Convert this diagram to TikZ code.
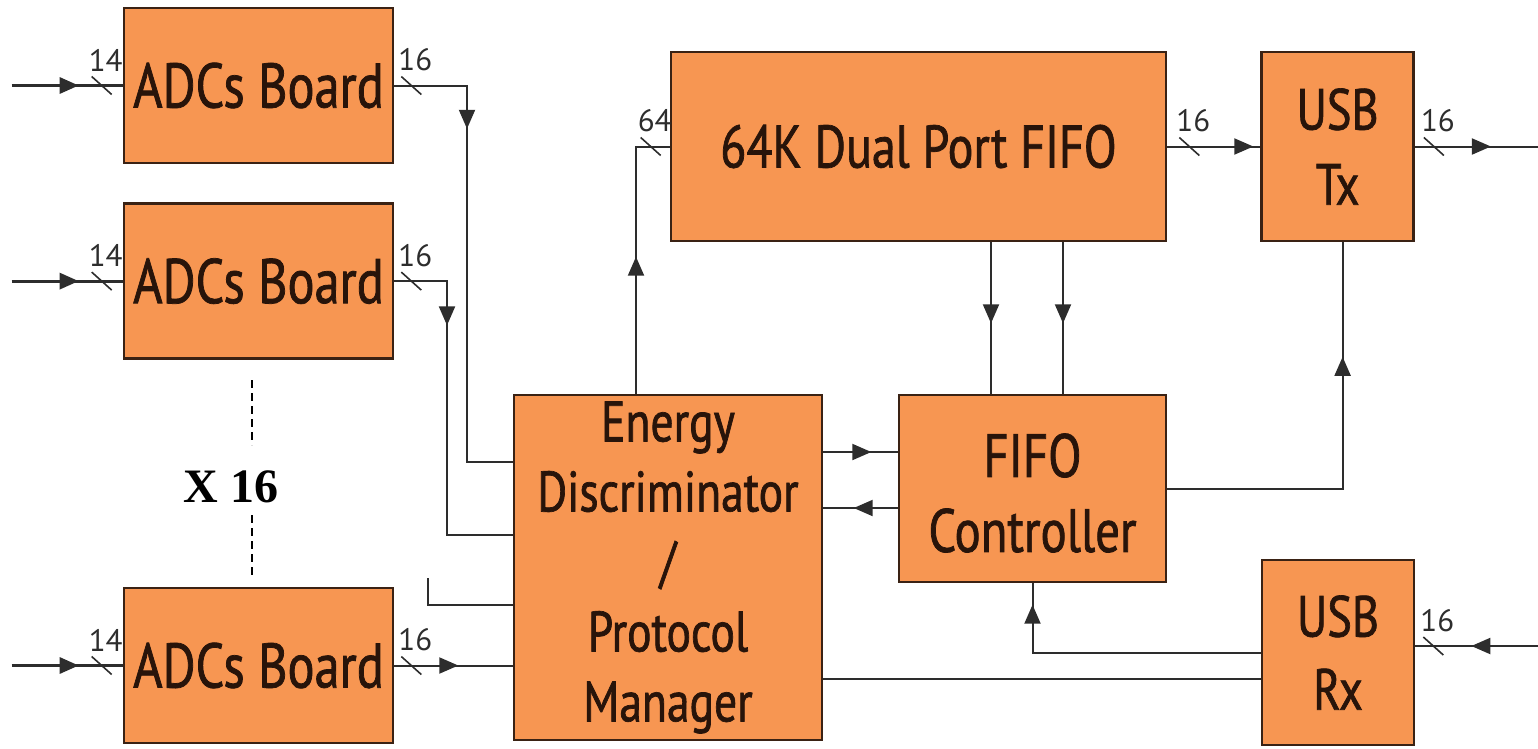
\documentclass[tikz,border=0pt]{standalone}
\usepackage{fontspec}
\setmainfont{PT Sans}
\newfontfamily\boxfont{PT Sans}[FakeStretch=0.8, FakeBold=1.2]
\newfontfamily\serifbold{Liberation Serif}
\usetikzlibrary{arrows.meta,positioning,decorations.markings}

\definecolor{boxfill}{RGB}{247,150,82}
\definecolor{boxedge}{RGB}{58,34,20}
\definecolor{boxtext}{RGB}{40,20,10}
\definecolor{wirecol}{RGB}{45,45,45}

\tikzset{
  pics/buswidth/.style={code={
    \draw[wirecol, line width=1.6pt] (-10,-9) -- (10,9);
    \node[font=\fontsize{31}{31}\selectfont, anchor=south, inner sep=0pt, text=wirecol] (-lbl) at (4,-14) {#1};
  }}
}

\begin{document}
\begin{tikzpicture}[
  x=1pt, y=-1pt,
  block/.style={draw=boxedge, fill=boxfill, line width=2.6pt, inner sep=0pt, align=center, text=boxtext},
  adcbox/.style={block, minimum width=269pt, minimum height=155pt, font=\boxfont\fontsize{63}{72}\selectfont},
  wire/.style={draw=wirecol, line width=2pt},
  inwire/.style={wire, line width=3pt},
  dashline/.style={draw=black, line width=1.5pt, dash pattern=on 8pt off 5pt},
  midtip/.style={postaction={decorate}, decoration={markings, mark=at position #1 with {\arrow{Triangle[length=19pt,width=16pt]}}}}
]
\useasboundingbox (0,0) rectangle (1538,748);

% ADC boards
\node[adcbox] (adc1) at (258.5,85.5) {ADCs Board};
\node[adcbox, below=38pt of adc1] (adc2) {ADCs Board};
\node[adcbox] (adc3) at (258.5,665.5) {ADCs Board};
\node[font=\serifbold\bfseries\fontsize{48}{48}\selectfont] (x16) at (231,487) {X 16};

% processing blocks
\node[block, minimum width=308pt, minimum height=345pt, font=\boxfont\fontsize{57}{70}\selectfont] (ed) at (668,567.5)
  {Energy\\Discriminator\\/\\Protocol\\Manager};
\node[block, minimum width=495pt, minimum height=189pt, font=\boxfont\fontsize{60}{70}\selectfont] (fifo) at (918.5,146.5)
  {64K Dual Port FIFO};
\node[block, minimum width=267pt, minimum height=187pt, font=\boxfont\fontsize{61}{75}\selectfont] (ctrl) at (1032.5,488.5)
  {\strut FIFO\\Controller};
\node[block, minimum width=152pt, minimum height=189pt, font=\boxfont\fontsize{58}{75}\selectfont, right=93pt of fifo] (usbtx)
  {USB\\Tx};
\node[block, minimum width=152pt, minimum height=185pt, font=\boxfont\fontsize{58}{73}\selectfont] (usbrx) at (1338,652.5)
  {USB\\Rx};

% inputs of the boards
\foreach \b in {adc1,adc2,adc3} {
  \coordinate (in-\b) at ([xshift=-111pt]\b.west);
  \draw[inwire, midtip=67pt] (in-\b) -- (\b.west);
  \pic (bi-\b) at ([xshift=-21pt]\b.west) {buswidth=14};
}

% boards to energy discriminator
\coordinate (j1) at (467,462);
\draw[wire, midtip=116pt] (adc1.east) -| (j1) -- (j1 -| ed.west);
\pic (bo-adc1) at ([xshift=17pt]adc1.east) {buswidth=16};
\coordinate (j2) at (447,535);
\draw[wire, midtip=97pt] (adc2.east) -| (j2) -- (j2 -| ed.west);
\pic (bo-adc2) at ([xshift=17pt]adc2.east) {buswidth=16};
\draw[wire, midtip=64pt] (adc3.east) -- (adc3.east -| ed.west);
\pic (bo-adc3) at ([xshift=17pt]adc3.east) {buswidth=16};
\coordinate (stub) at (428,578);
\coordinate (j3) at (428,605);
\draw[wire] (stub) -- (j3) -- (j3 -| ed.west);

% the x16 marker
\coordinate (d1) at (252,380);
\coordinate (d2) at (252,445);
\coordinate (d3) at (252,515);
\coordinate (d4) at (252,578);
\draw[dashline] (d1) -- (d2) (d3) -- (d4);

% discriminator to FIFO
\coordinate (e1) at ([xshift=-32pt]ed.north);
\draw[wire, midtip=137pt] (e1) |- (fifo.west);
\pic (bf) at ([xshift=-19pt]fifo.west) {buswidth=64};

% FIFO to USB Tx and out
\draw[wire, midtip=86pt] (fifo.east) -- (usbtx.west);
\pic (bt) at ([xshift=22pt]fifo.east) {buswidth=16};
\coordinate (out) at ([xshift=127pt]usbtx.east);
\draw[wire, midtip=76pt] (usbtx.east) -- (out);
\pic (bx) at ([xshift=19pt]usbtx.east) {buswidth=16};

% FIFO to controller
\coordinate (c1) at ([xshift=-41.5pt]ctrl.north);
\coordinate (c2) at ([xshift=30.5pt]ctrl.north);
\draw[wire, midtip=81pt] (c1 |- fifo.south) -- (c1);
\draw[wire, midtip=81pt] (c2 |- fifo.south) -- (c2);

% discriminator <-> controller
\coordinate (e2) at ([yshift=115.5pt]ed.east);
\draw[wire, midtip=48pt] (e2) -- (e2 -| ctrl.west);
\coordinate (e3) at ([yshift=59.5pt]ed.east);
\draw[wire, midtip=44pt] (e3 -| ctrl.west) -- (e3);

% controller to USB Tx
\coordinate (t1) at ([xshift=5pt]usbtx.south);
\draw[wire, midtip=307pt] (ctrl.east) -| (t1);

% USB Rx
\coordinate (r0) at ([yshift=6.5pt]usbrx.east);
\coordinate (rin) at ([xshift=124pt]r0);
\draw[wire, midtip=68pt] (rin) -- (r0);
\pic (br) at ([xshift=18pt]r0) {buswidth=16};
\draw[wire, midtip=276pt] (usbrx.west) -| (ctrl.south);
\coordinate (r1) at ([yshift=-26.5pt]usbrx.west);
\draw[wire] (r1) -- (r1 -| ed.east);
\end{tikzpicture}
\end{document}
